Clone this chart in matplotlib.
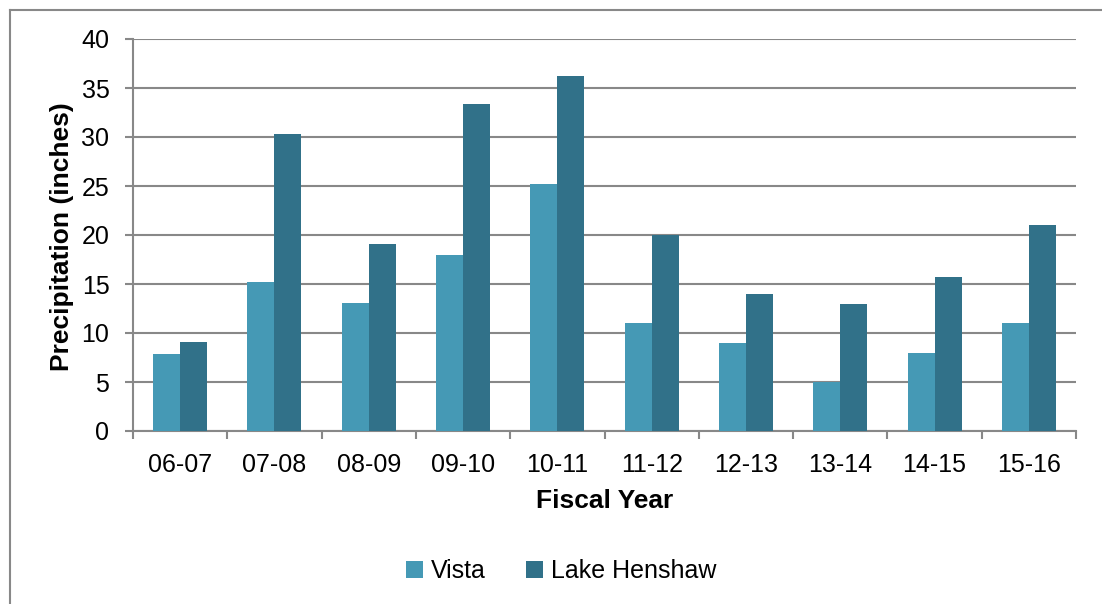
import matplotlib
matplotlib.use("Agg")
import matplotlib.pyplot as plt
import numpy as np
from matplotlib.patches import Patch

categories = ["06-07", "07-08", "08-09", "09-10", "10-11", "11-12", "12-13", "13-14", "14-15", "15-16"]
vista = [7.9, 15.2, 13.1, 18.0, 25.2, 11.0, 9.0, 5.0, 8.0, 11.0]
lake_henshaw = [9.1, 30.3, 19.1, 33.4, 36.2, 20.0, 14.0, 13.0, 15.7, 21.0]
series_names = ["Vista", "Lake Henshaw"]
colors = ["#4599B5", "#317189"]
yticks = [0, 5, 10, 15, 20, 25, 30, 35, 40]

plt.rcParams['font.family'] = ['Liberation Sans', 'DejaVu Sans']

W, H = 1102, 604
fig = plt.figure(figsize=(W / 100, H / 100), dpi=100)
ax = fig.add_axes([133 / W, 1 - 431 / H, (1076 - 133) / W, (431 - 39) / H])

x = np.arange(len(categories))
bw = 0.286
ax.bar(x - bw / 2, vista, width=bw, color=colors[0], edgecolor='none', zorder=3)
ax.bar(x + bw / 2, lake_henshaw, width=bw, color=colors[1], edgecolor='none', zorder=3)

ax.set_xlim(-0.5, len(categories) - 0.5)
ax.set_ylim(0, 40)
ax.set_yticks(yticks)
ax.set_yticklabels([str(v) for v in yticks], fontsize=18)
ax.set_xticks(x)
ax.set_xticklabels(categories, fontsize=18)
ax.set_xticks(np.arange(len(categories) + 1) - 0.5, minor=True)
ax.tick_params(axis='x', which='major', length=0, pad=16)
ax.tick_params(axis='x', which='minor', length=6, width=1.5, color='#888888')
ax.tick_params(axis='y', length=6, width=1.5, color='#888888', pad=11)

ax.grid(axis='y', color='#888888', linewidth=1.5, zorder=0)
ax.set_axisbelow(True)
for s in ['top', 'right']:
    ax.spines[s].set_visible(False)
for s in ['left', 'bottom']:
    ax.spines[s].set_color('#888888')
    ax.spines[s].set_linewidth(1.5)

fig.text(605 / W, 1 - 501 / H, "Fiscal Year", fontsize=19, fontweight='bold',
         ha='center', va='center')
fig.text(62 / W, 1 - 237 / H, "Precipitation (inches)", fontsize=19, fontweight='bold',
         ha='center', va='center', rotation=90)

handles = [Patch(facecolor=c, edgecolor='none') for c in colors]
fig.legend(handles, series_names, loc='center', bbox_to_anchor=(561 / W, 1 - 571 / H),
           ncol=2, frameon=False, fontsize=18, handlelength=0.7, handleheight=0.7,
           handletextpad=0.3, columnspacing=1.6)

# outer chart border (left and top visible)
fig.add_artist(plt.Line2D([9.5 / W, 9.5 / W], [0, 1 - 9.5 / H], transform=fig.transFigure,
                          color='#888888', linewidth=1.5))
fig.add_artist(plt.Line2D([9.5 / W, 1], [1 - 9.5 / H, 1 - 9.5 / H], transform=fig.transFigure,
                          color='#888888', linewidth=1.5))

fig.savefig("out.png", dpi=100)
